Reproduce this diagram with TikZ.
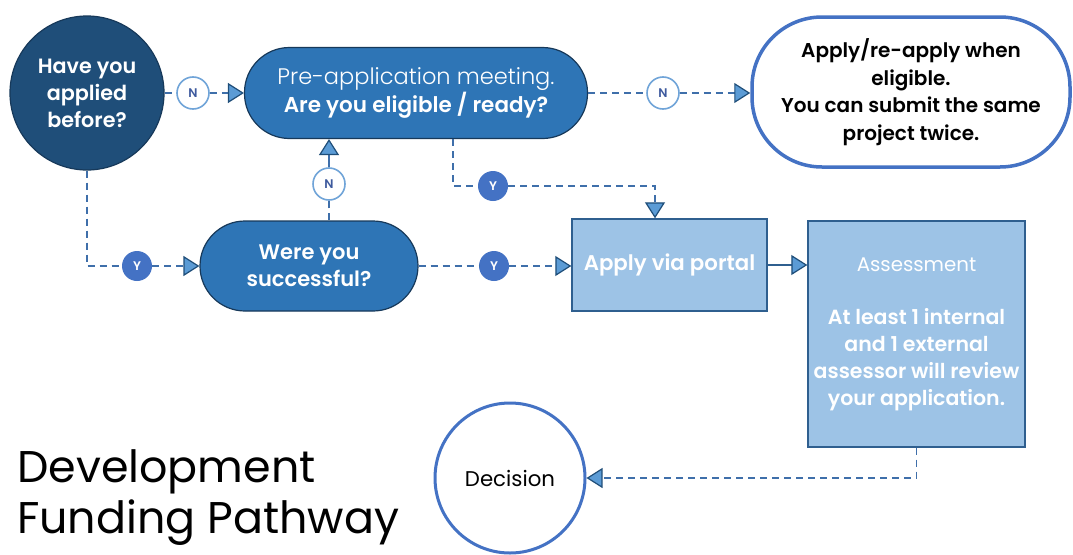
\documentclass[tikz,border=0pt]{standalone}
\usepackage{fontspec}
\setmainfont{Poppins}[BoldFont={Poppins SemiBold}]
\newfontfamily\lightfont{Poppins Light}
\usetikzlibrary{arrows.meta,positioning}
\definecolor{navy}{HTML}{1F4E79}
\definecolor{navyedge}{HTML}{17395A}
\definecolor{midblue}{HTML}{2E75B6}
\definecolor{lightblue}{HTML}{9DC3E6}
\definecolor{tipblue}{HTML}{5B9BD5}
\definecolor{lineblue}{HTML}{3F6FAA}
\definecolor{roundblue}{HTML}{4472C4}
\definecolor{ringblue}{HTML}{70A4D8}
\definecolor{boxedge}{HTML}{2F5F8F}
\definecolor{nletter}{HTML}{3E5A9E}
\tikzset{
  tiptri/.tip={Triangle[length=16pt,width=20pt,fill=tipblue,color=navy,line width=1.2pt]},
  conn/.style={draw=lineblue,line width=1.6pt,dash pattern=on 7pt off 5pt},
  solidconn/.style={draw=boxedge,line width=1.4pt},
  pill/.style={draw=navyedge,fill=midblue,line width=1.2pt,text=white,align=center,inner sep=2pt},
  bluebox/.style={draw=boxedge,fill=lightblue,line width=1.4pt,text=white,align=center,inner sep=2pt},
  nmark/.style={circle,draw=ringblue,fill=white,line width=1.6pt,minimum size=32pt,inner sep=0pt,text=nletter,font=\bfseries\fontsize{12.5}{14}\selectfont},
  ymark/.style={circle,fill=roundblue,minimum size=30pt,inner sep=0pt,text=white,font=\bfseries\fontsize{12.5}{14}\selectfont},
}
\begin{document}
\begin{tikzpicture}[x=1pt,y=-1pt]
\useasboundingbox (0,0) rectangle (1073,554);
\fill[white] (0,0) rectangle (1073,554);

% nodes
\node[circle,fill=navy,draw=navyedge,line width=1.2pt,minimum size=154pt,inner sep=0pt,text=white,align=center,font=\bfseries\fontsize{20.7}{27}\selectfont] (q1) at (87,93) {Have you\\applied\\before?};
\node[nmark] (n1) at (193,93) {N};
\node[pill,rounded corners=45pt,minimum width=343pt,minimum height=91pt,font=\fontsize{21.5}{28}\selectfont] (pre) at (416,93) {{\lightfont\fontsize{22.5}{28}\selectfont Pre-application meeting.}\\\bfseries Are you eligible / ready?};
\node[nmark] (n2) at (663,93) {N};
\node[draw=roundblue,fill=white,line width=3.5pt,rounded corners=70pt,minimum width=318pt,minimum height=150pt,inner sep=2pt,align=center,font=\bfseries\fontsize{20}{27.5}\selectfont] (elig) at (911,92) {Apply/re-apply when\\eligible.\\You can submit the same\\project twice.};
\node[ymark] (y1) at (493,186) {Y};
\node[nmark] (n3) at (329,184) {N};
\node[pill,rounded corners=45pt,minimum width=218pt,minimum height=90pt,font=\bfseries\fontsize{21}{27}\selectfont] (succ) at (309,266) {Were you\\successful?};
\node[ymark] (y2) at (137,266) {Y};
\node[ymark] (y3) at (494,266) {Y};
\node[bluebox,minimum width=195pt,minimum height=92pt,font=\bfseries\fontsize{21.3}{27}\selectfont] (apply) at (669.5,265) {Apply via portal};
\node[bluebox,minimum width=217pt,minimum height=226pt,font=\fontsize{20.5}{26.8}\selectfont] (assess) at (916.5,334) {{\fontsize{19.8}{26.8}\selectfont Assessment}\\[26.8pt]\bfseries At least 1 internal\\\bfseries and 1 external\\\bfseries assessor will review\\\bfseries your application.};
\node[circle,draw=roundblue,fill=white,line width=3pt,minimum size=150pt,inner sep=0pt,font=\fontsize{21.3}{24}\selectfont] (dec) at (510,478) {Decision};
\node[anchor=base west,inner sep=0pt,font=\fontsize{44.4}{52}\selectfont] (t1) at (17,482) {Development};
\node[anchor=base west,inner sep=0pt,font=\fontsize{44.4}{52}\selectfont] (t2) at (17,533) {Funding Pathway};

% connectors
\draw[conn] (q1.east) -- (n1.west);
\draw[conn,-tiptri] (n1.east) -- (pre.west);
\draw[conn] (pre.east) -- (n2.west);
\draw[conn,-tiptri] (n2.east) -- (elig.west |- n2);
\draw[conn] ([xshift=37pt]pre.south) |- (y1.west);
\draw[conn,-tiptri] (y1.east) -| ([xshift=-14.5pt]apply.north);
\draw[conn] (n3 |- succ.north) -- (n3.south);
\draw[draw=lineblue,line width=1.6pt,-tiptri] (n3.north) -- (n3 |- pre.south);
\draw[conn] (q1.south) |- (y2.west);
\draw[conn,-tiptri] (y2.east) -- (succ.west);
\draw[conn] (succ.east) -- (y3.west);
\draw[conn,-tiptri] (y3.east) -- (apply.west |- y3);
\draw[solidconn,-tiptri] (apply.east) -- (assess.west |- apply.east);
\draw[conn,-tiptri] (assess.south) |- (dec.east);
\end{tikzpicture}
\end{document}
